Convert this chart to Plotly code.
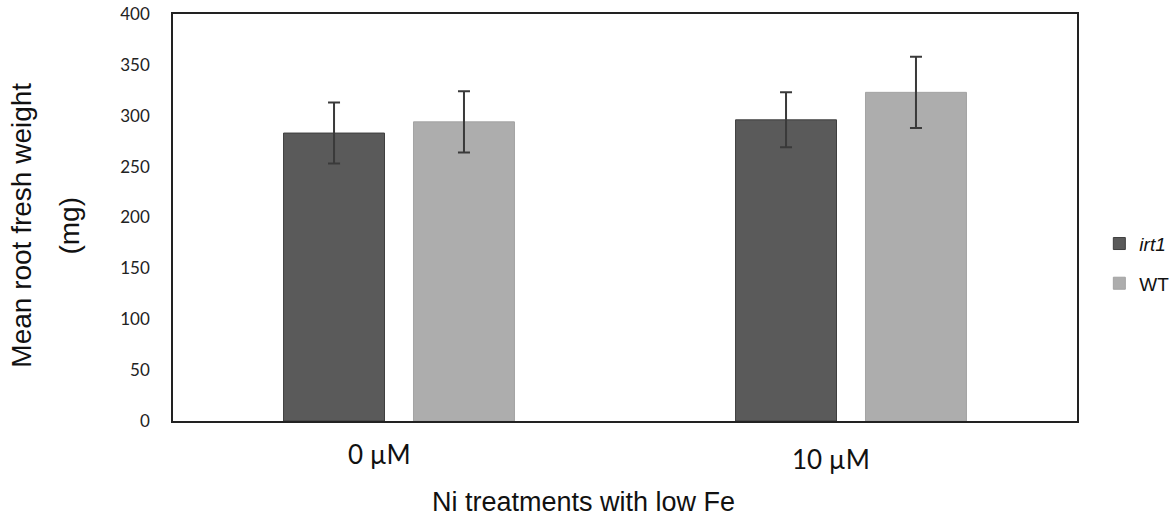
import plotly.graph_objects as go

categories = ["0 µM", "10 µM"]
irt1_vals = [283, 296]
irt1_err = [30, 27]
wt_vals = [294, 323]
wt_err = [30, 35]
x_title = "Ni treatments with low Fe"
y_title_1 = "Mean root fresh weight"
y_title_2 = "(mg)"

fig = go.Figure()
fig.add_trace(go.Bar(
    x=categories, y=irt1_vals, name="<i>irt1</i>", legendgroup="a",
    marker=dict(color="#5a5a5a", line=dict(color="#3f3f3f", width=1)),
    error_y=dict(type="data", array=irt1_err, color="#3a3a3a", thickness=2, width=6),
))
fig.add_trace(go.Bar(
    x=categories, y=wt_vals, name="WT", legendgroup="b",
    marker=dict(color="#adadad", line=dict(color="#a3a3a3", width=1)),
    error_y=dict(type="data", array=wt_err, color="#3a3a3a", thickness=2, width=6),
))

fig.update_layout(
    width=1172, height=517,
    margin=dict(l=173, r=95, t=14, b=96, autoexpand=False),
    paper_bgcolor="white", plot_bgcolor="white",
    barmode="group", bargap=0.425, bargroupgap=0.223,
    font=dict(family="Arial, Liberation Sans, sans-serif", color="#111111"),
    legend=dict(xref="container", yref="container", x=0.938, y=0.49,
                xanchor="left", yanchor="middle",
                font=dict(size=19, color="#111111"), traceorder="grouped",
                tracegroupgap=12),
    showlegend=True,
)
fig.update_xaxes(
    showline=True, linecolor="#222222", linewidth=1.5, mirror=True,
    showticklabels=False, ticks="",
)
fig.update_yaxes(
    range=[0, 400], dtick=50, showgrid=False, zeroline=False,
    showline=True, linecolor="#222222", linewidth=1.5, mirror=True,
    tickfont=dict(family="Lato, Open Sans, sans-serif", size=17, color="#222222"),
    ticks="", ticklabelstandoff=18,
)

# category labels (slightly offset left, as in the reference)
label_y = [-0.08, -0.093]
for cat, ly in zip(categories, label_y):
    fig.add_annotation(
        x=cat, xref="x", y=ly, yref="paper", text=cat, showarrow=False,
        xanchor="center", yanchor="middle", xshift=-20,
        font=dict(family="Lato, Open Sans, sans-serif", size=26, color="#111111"),
    )

fig.add_annotation(
    x=0.5, xref="paper", y=-0.2, yref="paper", text=x_title, showarrow=False,
    xanchor="center", yanchor="middle", xshift=-42, font=dict(size=27, color="#111111"),
)
fig.add_annotation(
    x=-0.167, xref="paper", y=0.48, yref="paper", text=y_title_1, showarrow=False,
    xanchor="center", yanchor="middle", textangle=-90, font=dict(size=28, color="#111111"),
)
fig.add_annotation(
    x=-0.114, xref="paper", y=0.48, yref="paper", text=y_title_2, showarrow=False,
    xanchor="center", yanchor="middle", textangle=-90, font=dict(size=28, color="#111111"),
)

fig.write_html("out.html")
